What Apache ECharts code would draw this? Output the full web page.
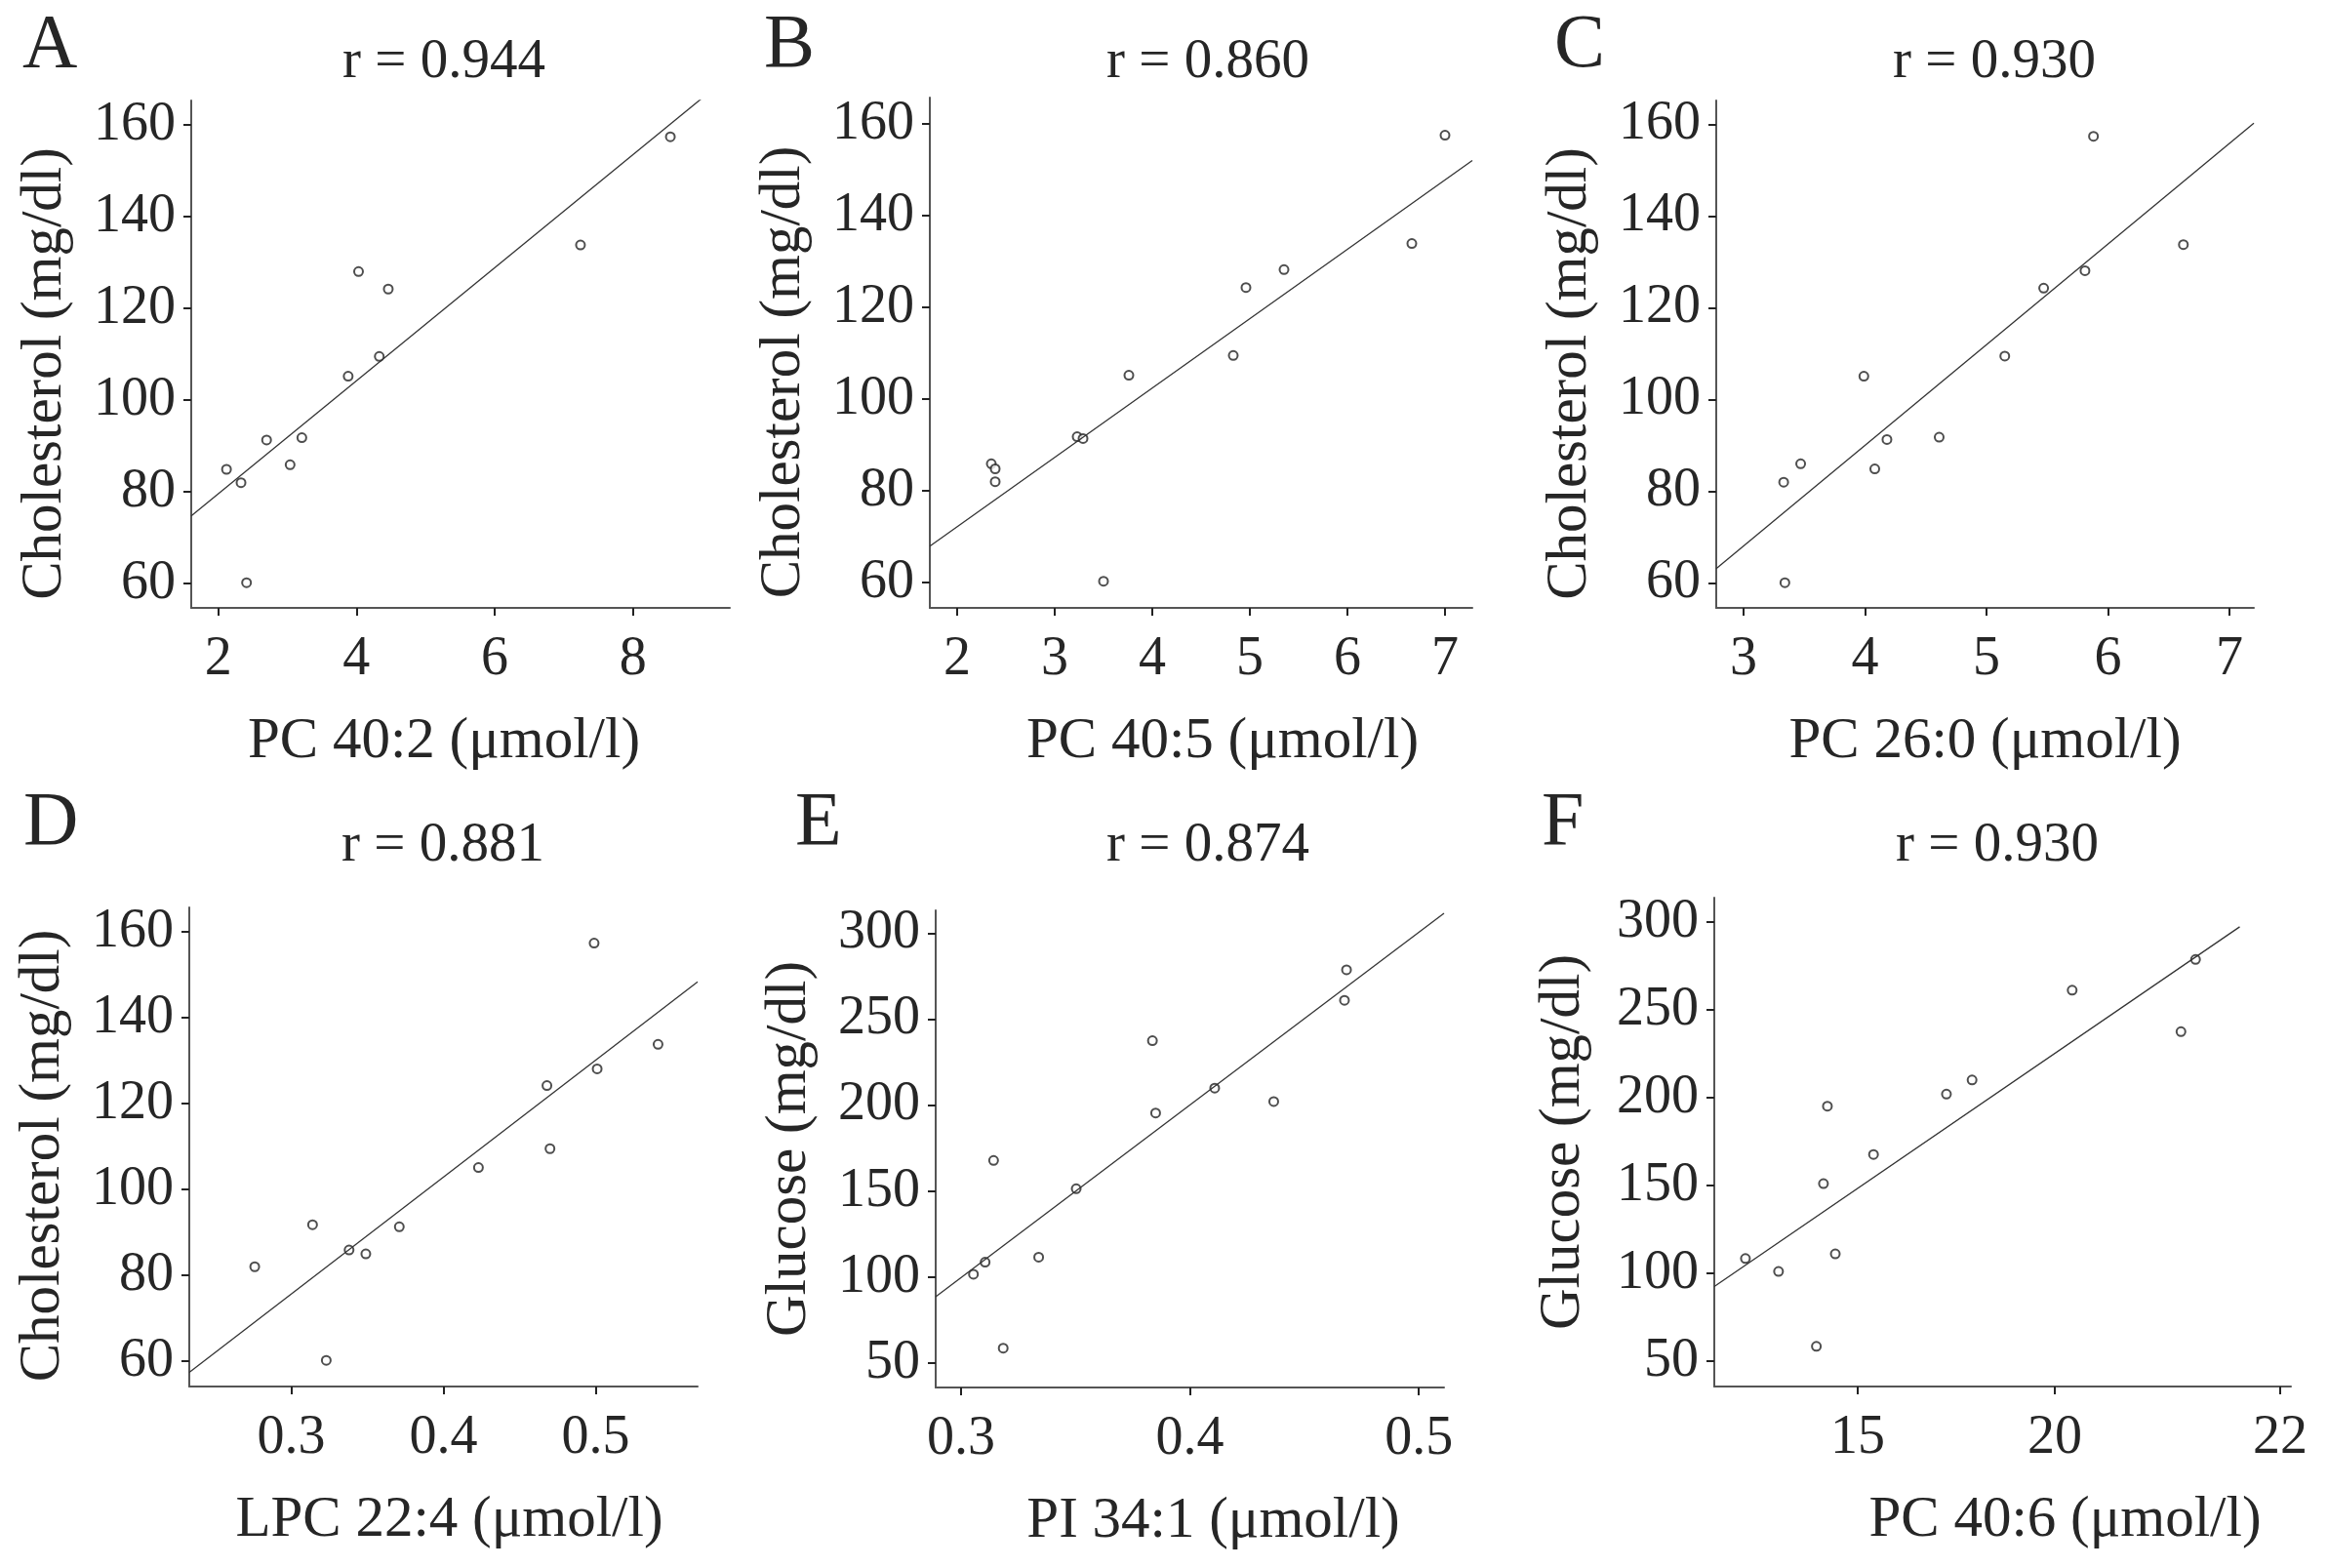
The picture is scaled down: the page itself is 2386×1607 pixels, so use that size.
<!DOCTYPE html>
<html>
<head>
<meta charset="utf-8">
<script src="https://cdn.jsdelivr.net/npm/echarts@6/dist/echarts.min.js"></script>
<style>
html,body{margin:0;padding:0;background:#fff;}
#chart{width:2386px;height:1607px;}
</style>
</head>
<body>
<div id="chart"></div>
<script>
// ---------------- data ----------------
const panelLetters = ['A','B','C','D','E','F'];
const panelTitles = ['r = 0.944','r = 0.860','r = 0.930','r = 0.881','r = 0.874','r = 0.930'];
const xNames = ['PC 40:2 (μmol/l)','PC 40:5 (μmol/l)','PC 26:0 (μmol/l)','LPC 22:4 (μmol/l)','PI 34:1 (μmol/l)','PC 40:6 (μmol/l)'];
const yNames = ['Cholesterol (mg/dl)','Cholesterol (mg/dl)','Cholesterol (mg/dl)','Cholesterol (mg/dl)','Glucose (mg/dl)','Glucose (mg/dl)'];

const aX = [2.12,2.33,2.41,2.70,3.04,3.21,3.88,4.03,4.33,4.46,7.24,8.54];
const aY = [84.9,82.0,60.2,91.3,85.9,91.8,105.2,128.0,109.5,124.2,133.8,157.4];
const bX = [2.35,2.39,2.39,3.23,3.29,3.50,3.76,4.83,4.96,5.35,6.66,7.00];
const bY = [85.9,84.8,82.0,91.8,91.4,60.3,105.2,109.5,124.3,128.2,133.9,157.5];
const cX = [3.33,3.34,3.47,3.99,4.08,4.18,4.61,5.15,5.47,5.81,5.88,6.62];
const cY = [82.0,60.1,86.0,105.1,84.9,91.3,91.8,109.5,124.3,128.1,157.4,133.8];
const dX = [0.276,0.314,0.323,0.338,0.349,0.371,0.423,0.468,0.470,0.499,0.501,0.541];
const dY = [82.0,91.8,60.2,85.9,85.0,91.3,105.1,124.2,109.5,157.4,128.1,133.8];
const eX = [0.3054,0.3105,0.3142,0.3184,0.3339,0.3503,0.3836,0.3850,0.4108,0.4366,0.4675,0.4684];
const eY = [101.7,108.7,167.9,58.7,111.6,151.4,237.6,195.5,210.0,202.2,261.1,278.8];
const fX = [12.15,12.99,13.95,14.13,14.23,14.43,15.40,17.25,17.90,20.44,23.20,23.57];
const fY = [108.5,101.1,58.5,151.1,195.2,111.1,167.7,202.1,210.1,261.2,237.6,278.7];

// axis ranges
const xRanges = [[1.61,9.40],[1.72,7.28],[2.775,7.20],[0.233,0.567],[0.2889,0.511],[11.36,25.99]];
const yRanges = [[54.7,165.3],[54.5,165.7],[54.6,165.2],[54.1,165.7],[35.8,313.4],[35.6,313.9]];
// x extent of the fitted regression line
const fitSpans = [[1.61,8.99],[1.72,7.28],[2.775,7.20],[0.233,0.567],[0.2889,0.511],[11.36,24.69]];

// tick values and labels
const aXTicks = [2,4,6,8];
const bXTicks = [2,3,4,5,6,7];
const cXTicks = [3,4,5,6,7];
const dXTicks = [0.3,0.4,0.5];
const eXTicks = [0.3,0.4,0.5];
const fXTicks = [15,20,25.72];
const fXTickLabels = ['15','20','22'];
const cholTicks = [60,80,100,120,140,160];
const glucTicks = [50,100,150,200,250,300];

// ---------------- layout ----------------
const grids = [
  {left:196, top:103, width:552, height:520},
  {left:953, top:100, width:556, height:523},
  {left:1759, top:103, width:551, height:520},
  {left:194, top:930, width:521, height:491},
  {left:959, top:933, width:521, height:489},
  {left:1757, top:920, width:591, height:501}
];
const titlePos = [[455,64],[1238,64],[2044,64],[454,867],[1238,867],[2047,867]];
const letterPos = [[23,48],[783,48],[1593,48],[24,845],[815,845],[1580,845]];
const xNameShift = [-17,22,0,6,24,64];
const yNameShift = [20,20,20,9,0,0];
const yNameGaps = [120,120,120,120,120,125];

const FONT = "'Liberation Serif','Times New Roman',serif";
const TXT = '#262626';

const xs = [aX,bX,cX,dX,eX,fX];
const ys = [aY,bY,cY,dY,eY,fY];
const xTickSets = [aXTicks,bXTicks,cXTicks,dXTicks,eXTicks,fXTicks];
const xTickLabelSets = [null,null,null,null,null,fXTickLabels];
const yTickSets = [cholTicks,cholTicks,cholTicks,cholTicks,glucTicks,glucTicks];

function ols(x, y) {
  const n = x.length;
  const mx = x.reduce((s,v)=>s+v,0)/n;
  const my = y.reduce((s,v)=>s+v,0)/n;
  let sxy=0, sxx=0;
  for (let i=0;i<n;i++){ sxy+=(x[i]-mx)*(y[i]-my); sxx+=(x[i]-mx)*(x[i]-mx); }
  const b = sxy/sxx;
  return {a: my-b*mx, b: b};
}

function pad(shift){ // horizontal shift of a centered name via padding
  return shift>=0 ? [0,0,0,2*shift] : [0,-2*shift,0,0];
}

const option = {
  animation:false,
  backgroundColor:'#fff',
  grid: grids.map(g=>Object.assign({containLabel:false}, g)),
  xAxis: [], yAxis: [], series: [],
  graphic: []
};

for (let i=0;i<6;i++){
  const ticks = xTickSets[i];
  const labs = xTickLabelSets[i];
  option.xAxis.push({
    type:'value', gridIndex:i, min:xRanges[i][0], max:xRanges[i][1],
    name:xNames[i], nameLocation:'middle', nameGap:108,
    nameTextStyle:{fontFamily:FONT, fontSize:59, color:TXT, padding:pad(xNameShift[i])},
    axisLine:{show:true, onZero:false, lineStyle:{color:'#555', width:2}},
    axisTick:{show:true, inside:false, length:8, lineStyle:{color:'#222', width:2}, customValues:ticks},
    axisLabel:{show:true, margin:25, fontFamily:FONT, fontSize:56, color:TXT, customValues:ticks,
      formatter:function(v){ if(labs){ const k=ticks.indexOf(v); return k>=0?labs[k]:''; } return String(v); }},
    splitLine:{show:false}
  });
  const yt = yTickSets[i];
  option.yAxis.push({
    type:'value', gridIndex:i, min:yRanges[i][0], max:yRanges[i][1],
    name:yNames[i], nameLocation:'middle', nameGap:yNameGaps[i], nameRotate:90,
    nameTextStyle:{fontFamily:FONT, fontSize:59, color:TXT,
      padding: yNameShift[i]>=0 ? [0,2*yNameShift[i],0,0] : [0,0,0,-2*yNameShift[i]]},
    axisLine:{show:true, onZero:false, lineStyle:{color:'#555', width:2}},
    axisTick:{show:true, inside:false, length:8, lineStyle:{color:'#222', width:2}, customValues:yt},
    axisLabel:{show:true, margin:16, fontFamily:FONT, fontSize:56, color:TXT, customValues:yt,
      formatter:function(v){ return String(v); }},
    splitLine:{show:false}
  });
  const pts = xs[i].map((v,k)=>[v, ys[i][k]]);
  option.series.push({
    type:'scatter', xAxisIndex:i, yAxisIndex:i, data:pts,
    symbol:'emptyCircle', symbolSize:9,
    itemStyle:{color:'#222', borderColor:'#222', borderWidth:1.3},
    silent:true
  });
  const fit = ols(xs[i], ys[i]);
  const s = fitSpans[i];
  option.series.push({
    type:'line', xAxisIndex:i, yAxisIndex:i,
    data:[[s[0], fit.a+fit.b*s[0]],[s[1], fit.a+fit.b*s[1]]],
    symbol:'none', showSymbol:false, silent:true, clip:true,
    lineStyle:{color:'#333', width:1.3}
  });
  option.graphic.push({
    type:'text', x:titlePos[i][0], y:titlePos[i][1], silent:true,
    style:{text:panelTitles[i], font:'57px '+FONT, fill:TXT, textAlign:'center', textVerticalAlign:'middle'}
  });
  option.graphic.push({
    type:'text', x:letterPos[i][0], y:letterPos[i][1], silent:true,
    style:{text:panelLetters[i], font:'78px '+FONT, fill:TXT, textAlign:'left', textVerticalAlign:'middle'}
  });
}

const chart = echarts.init(document.getElementById('chart'), null, {renderer:'canvas'});
chart.setOption(option);
</script>
</body>
</html>
